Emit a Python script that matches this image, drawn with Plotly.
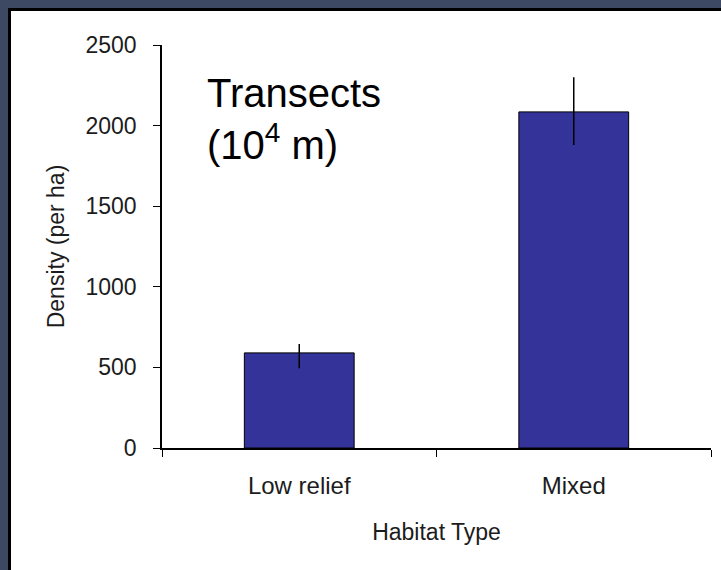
import plotly.graph_objects as go

habitats = ["Low relief", "Mixed"]
density = [590, 2085]
err_plus = [55, 215]
err_minus = [95, 205]
y_ticks = [0, 500, 1000, 1500, 2000, 2500]

font_small = dict(family="Liberation Sans, Arial, sans-serif", size=23, color="#1c1c1c")

fig = go.Figure()

fig.add_trace(go.Bar(
    x=habitats,
    y=density,
    marker=dict(color="#333399", line=dict(color="#000000", width=1)),
    error_y=dict(
        type="data",
        symmetric=False,
        array=err_plus,
        arrayminus=err_minus,
        color="#000000",
        thickness=1.5,
        width=0,
    ),
    showlegend=False,
    hoverinfo="skip",
))

# slide frame: dark strip top/left with thin black inner edge
frame = "#3d4963"
for x0, x1, y0, y1, c in [
    (0, 8, 0, 570, frame), (0, 721, 0, 8, frame),
    (8, 11, 8, 570, "#000000"), (8, 721, 8, 11, "#000000"),
]:
    fig.add_shape(
        type="rect", xref="paper", yref="paper",
        x0=(x0 - 162) / 549, x1=(x1 - 162) / 549,
        y0=(448 - y1) / 403, y1=(448 - y0) / 403,
        fillcolor=c, line=dict(width=0), layer="below",
    )

fig.add_annotation(
    text="Transects<br>(10<sup>4</sup> m)",
    xref="paper", yref="paper", x=0.079, y=0.94,
    xanchor="left", yanchor="top", align="left", showarrow=False,
    font=dict(family="Liberation Sans, Arial, sans-serif", size=40, color="#000000"),
)

fig.update_layout(
    width=721,
    height=570,
    margin=dict(l=162, r=10, t=45, b=122),
    paper_bgcolor="white",
    plot_bgcolor="rgba(0,0,0,0)",
    bargap=0.6,
    font=font_small,
    xaxis=dict(
        title=dict(text="Habitat Type", font=font_small, standoff=26),
        showline=True, linecolor="#000000", linewidth=1.5,
        ticks="outside", tickson="boundaries", ticklen=7, tickcolor="#000000",
        tickfont=dict(font_small, size=24), ticklabelstandoff=15,
        showgrid=False, zeroline=False, automargin=False,
    ),
    yaxis=dict(
        title=dict(text="Density (per ha)", font=font_small, standoff=14),
        range=[0, 2500], tickvals=y_ticks,
        showline=True, linecolor="#000000", linewidth=1.5,
        ticks="outside", ticklen=7, tickcolor="#000000",
        tickfont=font_small, ticklabelstandoff=12,
        showgrid=False, zeroline=False, automargin=False,
    ),
)

fig.write_html(
    "out.html",
    config={"displayModeBar": False},
    post_script="document.body.style.margin='0';document.body.style.overflow='hidden';",
)
